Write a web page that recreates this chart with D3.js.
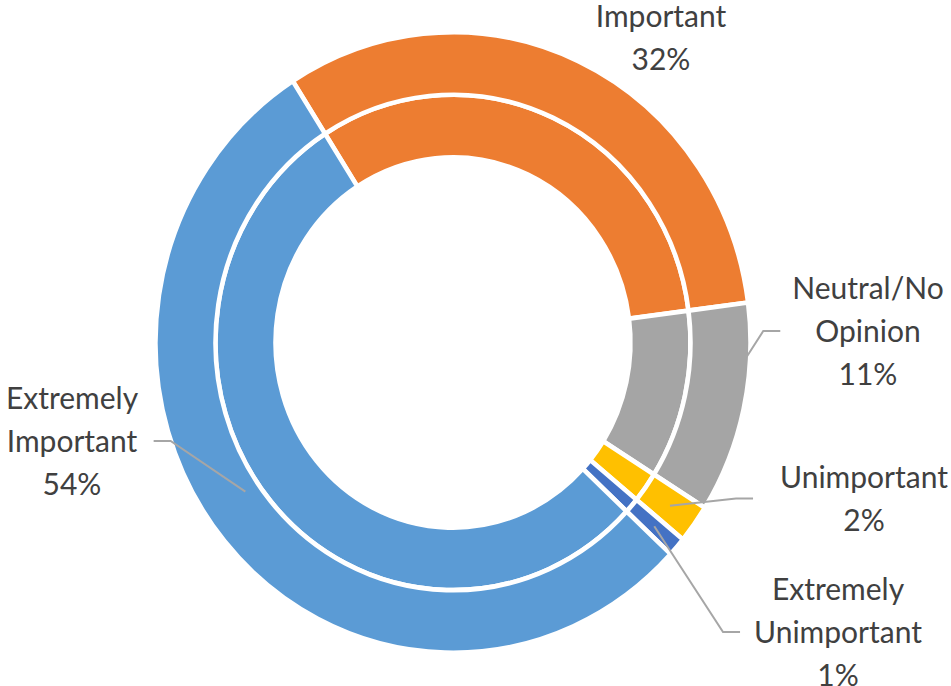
<!DOCTYPE html>
<html>
<head>
<meta charset="utf-8">
<script src="https://cdn.jsdelivr.net/npm/d3@7"></script>
<style>
  html,body{margin:0;padding:0;background:#fff;}
  svg{display:block;}
</style>
</head>
<body>
<div id="chart"></div>
<script>
// Double doughnut — importance ratings (outer + inner ring share same split)
const categories = ['Important','Neutral/No Opinion','Unimportant','Extremely Unimportant','Extremely Important'];
const outerValues = [32, 11, 2, 1, 54];
const innerValues = [32, 11, 2, 1, 54];
const labelLines = [['Important'], ['Neutral/No','Opinion'], ['Unimportant'], ['Extremely','Unimportant'], ['Extremely','Important']];
const colors = ['#ED7D31','#A5A5A5','#FFC000','#4472C4','#5B9BD5'];

(function(){
  const W = 951, H = 686;
  const cx = 453, cy = 342.5, sy = 1.043;       // picture is slightly taller than wide
  const startDeg = -32.6;
  const rings = {outer:[237.5, 297.5], inner:[177.5, 237.5]};

  // label layout: centre x, first baseline, leader (fraction along slice, fraction across ring, side, gap)
  const lab = [
    {x:661, y:27},
    {x:868, y:299, t:0.255, r:0.98, side:'left', gap:12},
    {x:864, y:488, t:0.5,   r:0.5,  side:'left', gap:27},
    {x:838, y:600, t:0.5,   r:0.5,  side:'left', gap:14},
    {x:72,  y:409, t:0.527, r:0.22, side:'right', gap:15}
  ];
  const lh = 43;

  const svg = d3.select('#chart').append('svg').attr('width',W).attr('height',H);

  const pie = d3.pie().sort(null).value(d=>d)
    .startAngle(startDeg*Math.PI/180).endAngle(startDeg*Math.PI/180 + 2*Math.PI);

  const g = svg.append('g').attr('transform',`translate(${cx},${cy}) scale(1,${sy})`);

  const drawRing = (vals, r) => {
    const arc = d3.arc().innerRadius(r[0]).outerRadius(r[1]);
    g.append('g').selectAll('path').data(pie(vals)).join('path')
      .attr('d', arc)
      .attr('fill', (d,i)=>colors[i])
      .attr('stroke','#fff').attr('stroke-width',4.5).attr('stroke-linejoin','miter');
  };
  drawRing(innerValues, rings.inner);
  drawRing(outerValues, rings.outer);

  // labels
  const outerArcs = pie(outerValues);
  const font = 'Lato, "Open Sans", sans-serif';
  labelLines.forEach((lines, i)=>{
    const L = lab[i];
    const all = lines.concat([outerValues[i] + '%']);
    const t = svg.append('text').attr('text-anchor','middle')
      .style('font-family',font).style('font-size','30px').style('fill','#404040');
    all.forEach((s,k)=>t.append('tspan').attr('x',L.x).attr('y',L.y + k*lh).text(s));

    if(L.t === undefined) return;
    const bb = t.node().getBBox();
    const a = outerArcs[i];
    const ang = a.startAngle + (a.endAngle - a.startAngle)*L.t;
    const rr = 240 + (295-240)*L.r;
    const ex = cx + rr*Math.sin(ang), ey = cy - rr*Math.cos(ang)*sy;
    const my = bb.y + bb.height/2 + 1;
    const sx = L.side==='left' ? bb.x - L.gap : bb.x + bb.width + L.gap;
    const kx = L.side==='left' ? sx - 17 : sx + 17;
    svg.append('polyline')
      .attr('points', `${sx},${my} ${kx},${my} ${ex},${ey}`)
      .attr('fill','none').attr('stroke','#A6A6A6').attr('stroke-width',2);
  });
})();
</script>
</body>
</html>
